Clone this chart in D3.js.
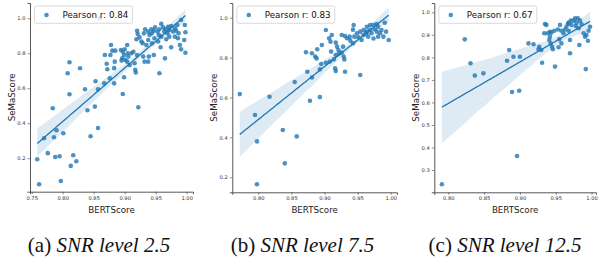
<!DOCTYPE html>
<html>
<head>
<meta charset="utf-8">
<script src="https://cdn.jsdelivr.net/npm/d3@7/dist/d3.min.js"></script>
<style>
  body { margin: 0; background: #fff; }
</style>
</head>
<body>
<svg id="fig" width="598" height="262" font-family="DejaVu Sans, sans-serif"></svg>
<script>
// BERTScore (x) / SeMaScore (y) pairs
var bertA = [0.759,0.762,0.770,0.776,0.784,0.786,0.788,0.790,0.795,0.797,0.801,0.813,0.817,0.822,0.840,0.845,0.852,0.857,0.922,
  0.811,0.808,0.811,0.828,0.836,0.853,0.857,0.867,0.883,0.876,0.897,0.899,0.872,0.871,0.883,0.884,0.868,0.860,
  0.878,0.880,0.885,0.877,0.894,0.897,0.900,0.904,0.905,0.906,0.899,0.896,0.895,0.901,0.904,0.911,0.914,0.920,0.916,0.908,0.930,0.932,0.938,0.939,0.947,0.917,0.918,
  0.956,0.965,0.958,0.975,0.989,0.991,0.998,0.996,0.998,0.997,0.991,
  0.920,0.921,0.924,0.919,0.927,0.931,0.933,0.938,0.940,0.943,0.944,0.947,0.949,0.953,0.955,0.956,0.959,0.962,0.964,0.966,
  0.969,0.970,0.972,0.975,0.978,0.981,0.983,0.985,0.987,0.981,0.972,0.959,0.948,0.938,0.929,0.935,0.944,0.954,0.967,0.986];
var semaA = [0.194,0.051,0.314,0.229,0.486,0.320,0.207,0.360,0.211,0.070,0.343,0.156,0.217,0.183,0.474,0.326,0.495,0.373,0.491,
  0.566,0.686,0.749,0.714,0.594,0.640,0.594,0.628,0.628,0.657,0.567,0.663,0.709,0.740,0.715,0.752,0.790,1.000,
  0.847,0.815,0.815,0.790,0.819,0.809,0.823,0.847,0.800,0.781,0.790,0.771,0.758,0.762,0.752,0.800,0.809,0.790,0.743,0.733,0.781,0.752,0.752,0.781,0.790,0.705,0.690,
  0.686,0.771,0.834,0.834,0.847,0.823,0.803,0.876,0.920,0.962,0.990,
  0.929,0.910,0.891,0.880,0.867,0.914,0.937,0.924,0.905,0.937,0.914,0.929,0.948,0.924,0.905,0.937,0.968,0.948,0.924,0.937,
  0.914,0.952,0.933,0.956,0.924,0.943,0.929,0.962,0.914,0.895,0.895,0.895,0.886,0.876,0.857,0.847,0.857,0.867,0.880,0.886];

var bertB = [0.772,0.817,0.795,0.798,0.798,0.837,0.840,0.858,0.878,0.893,
  0.855,0.874,0.881,0.893,0.895,0.902,0.888,0.886,0.872,0.881,0.889,0.896,0.902,0.911,0.907,0.909,0.910,0.916,0.917,0.931,0.930,0.954,0.944,0.943,0.997,0.943,
  0.917,0.919,0.921,0.922,0.917,0.914,0.908,0.926,0.928,0.929,
  0.926,0.931,0.938,0.945,0.949,0.954,0.959,0.964,0.969,0.974,0.979,0.981,0.986,0.991,0.993,0.989,0.956,0.959,0.964,0.966,
  0.971,0.976,0.979,0.969,0.963,0.951,0.939,0.934,0.974,0.984,0.981];
var semaB = [0.617,0.604,0.512,0.380,0.165,0.437,0.270,0.405,0.584,0.602,
  0.678,0.729,0.700,0.741,0.768,0.774,0.796,0.805,0.827,0.822,0.842,0.863,0.938,0.913,0.897,0.880,0.830,0.746,0.733,0.729,0.791,0.713,0.963,0.940,0.888,0.872,
  0.875,0.855,0.838,0.821,0.813,0.791,0.780,0.825,0.855,0.805,
  0.913,0.908,0.905,0.905,0.922,0.930,0.938,0.955,0.963,0.963,0.968,0.955,0.938,0.975,0.930,0.905,0.888,0.913,0.930,0.905,
  0.922,0.942,0.930,0.938,0.922,0.902,0.885,0.897,0.896,0.922,0.905];

var bertC = [0.791,0.896,
  0.823,0.831,0.837,0.849,0.882,0.885,0.891,0.900,0.889,0.899,0.912,0.919,0.927,0.930,0.926,0.931,0.934,0.937,0.935,0.939,
  0.942,0.944,0.941,0.943,0.945,0.946,0.949,0.954,0.955,0.958,0.961,0.963,0.965,0.967,0.968,0.970,0.970,0.972,0.975,0.977,
  0.979,0.982,0.983,0.986,0.989,0.991,0.992,0.993,0.995,0.996,0.998,
  0.971,0.981,0.984,0.978,0.968,0.956,0.953,0.948,0.958,0.942];
var semaC = [0.237,0.362,
  0.880,0.774,0.719,0.729,0.785,0.833,0.803,0.803,0.646,0.652,0.862,0.858,0.847,0.833,0.836,0.776,0.907,0.944,0.948,0.907,
  0.914,0.910,0.877,0.862,0.847,0.836,0.759,0.845,0.880,0.862,0.907,0.924,0.936,0.948,0.918,0.877,0.818,0.944,0.963,0.973,
  0.954,0.929,0.855,0.948,0.907,0.892,0.748,0.899,0.874,0.918,0.936,
  0.963,0.973,0.963,0.939,0.954,0.944,0.924,0.918,0.918,0.892];

var pearson = ["0.84", "0.83", "0.67"];
var captionTag = ["(a)", "(b)", "(c)"];
var captionText = ["SNR level 2.5", "SNR level 7.5", "SNR level 12.5"];

var xTicksA = [0.75, 0.80, 0.85, 0.90, 0.95, 1.00];
var yTicksA = [0.2, 0.4, 0.6, 0.8, 1.0];
var xTicksB = [0.80, 0.85, 0.90, 0.95, 1.00];
var yTicksB = [0.2, 0.4, 0.6, 0.8, 1.0];
var xTicksC = [0.80, 0.85, 0.90, 0.95, 1.00];
var yTicksC = [0.3, 0.4, 0.5, 0.6, 0.7, 0.8, 0.9, 1.0];

var blue = "#1f77b4";
var svg = d3.select("#fig");

var panels = [
  {bx: bertA, sy: semaA, xt: xTicksA, yt: yTicksA, left: 30, right: 193, top: 3, bottom: 191.7,
   xd: [0.7473, 1.0102], yd: [0.0086, 1.0874], capX: 99},
  {bx: bertB, sy: semaB, xt: xTicksB, yt: yTicksB, left: 232.3, right: 397, top: 3, bottom: 192.3,
   xd: [0.7607, 1.0095], yd: [0.1248, 1.0737], capX: 302.5},
  {bx: bertC, sy: semaC, xt: xTicksC, yt: yTicksC, left: 434.3, right: 596, top: 3, bottom: 192.3,
   xd: [0.7804, 1.0063], yd: [0.2011, 1.0413], capX: 505}
];

function linfit(xs, ys) {
  var mx = d3.mean(xs), my = d3.mean(ys), sxx = 0, sxy = 0;
  for (var i = 0; i < xs.length; i++) {
    sxx += (xs[i] - mx) * (xs[i] - mx);
    sxy += (xs[i] - mx) * (ys[i] - my);
  }
  var b = sxy / sxx;
  return [my - b * mx, b];
}

// fit line + bootstrap 95% band (seeded, same idea as seaborn regplot)
function fit(xs, ys) {
  var n = xs.length;
  var ab = linfit(xs, ys);
  var lo = d3.min(xs), hi = d3.max(xs);
  var grid = d3.range(0, 101).map(function(k) { return lo + (hi - lo) * k / 100; });
  var pick = d3.randomInt.source(d3.randomLcg(0.42))(n);
  var boots = grid.map(function() { return []; });
  for (var r = 0; r < 1000; r++) {
    var bx = [], by = [];
    for (var k = 0; k < n; k++) {
      var j = pick();
      bx.push(xs[j]); by.push(ys[j]);
    }
    var c = linfit(bx, by);
    grid.forEach(function(x, g) { boots[g].push(c[0] + c[1] * x); });
  }
  return grid.map(function(x, g) {
    var s = boots[g].sort(d3.ascending);
    return {x: x, y: ab[0] + ab[1] * x, y0: d3.quantileSorted(s, 0.025), y1: d3.quantileSorted(s, 0.975)};
  });
}

panels.forEach(function(p, i) {
  var x = d3.scaleLinear().domain(p.xd).range([p.left, p.right]);
  var y = d3.scaleLinear().domain(p.yd).range([p.bottom, p.top]);
  var g = svg.append("g");
  var pts = p.bx.map(function(v, k) { return [v, p.sy[k]]; });

  g.selectAll("circle.pt")
    .data(pts)
    .enter()
    .append("circle")
    .attr("class", "pt")
    .attr("cx", function(d) { return x(d[0]); })
    .attr("cy", function(d) { return y(d[1]); })
    .attr("r", 2.3)
    .attr("fill", blue)
    .attr("fill-opacity", 0.8);

  var reg = fit(p.bx, p.sy);
  g.append("path")
    .datum(reg)
    .attr("d", d3.area()
      .x(function(d) { return x(d.x); })
      .y0(function(d) { return y(d.y0); })
      .y1(function(d) { return y(d.y1); }))
    .attr("fill", blue)
    .attr("fill-opacity", 0.15);
  g.append("path")
    .datum(reg)
    .attr("d", d3.line()
      .x(function(d) { return x(d.x); })
      .y(function(d) { return y(d.y); }))
    .attr("fill", "none")
    .attr("stroke", blue)
    .attr("stroke-width", 1.3);

  // axes
  var xa = g.append("g").attr("transform", "translate(0," + p.bottom + ")")
    .call(d3.axisBottom(x).tickValues(p.xt).tickFormat(d3.format(".2f")).tickSizeOuter(0).tickSize(2.5).tickPadding(2));
  var ya = g.append("g").attr("transform", "translate(" + p.left + ",0)")
    .call(d3.axisLeft(y).tickValues(p.yt).tickFormat(d3.format(".1f")).tickSizeOuter(0).tickSize(2.5).tickPadding(2));
  [xa, ya].forEach(function(ax) {
    ax.attr("font-family", null).attr("font-size", null);
    ax.select(".domain").attr("stroke", "#444").attr("stroke-width", 0.9);
    ax.selectAll(".tick line").attr("stroke", "#444").attr("stroke-width", 0.6);
    ax.selectAll(".tick text").attr("font-size", 5.2).attr("fill", "#333");
  });

  g.append("text")
    .attr("x", (p.left + p.right) / 2)
    .attr("y", 213)
    .attr("text-anchor", "middle")
    .attr("font-size", 8.7)
    .attr("fill", "#222")
    .text("BERTScore");
  g.append("text")
    .attr("transform", "translate(" + (p.left - 15.5) + "," + ((p.top + p.bottom) / 2) + ") rotate(-90)")
    .attr("text-anchor", "middle")
    .attr("font-size", 8.7)
    .attr("fill", "#222")
    .text("SeMaScore");

  // legend
  var lg = g.append("g").attr("transform", "translate(" + (p.left + 4.5) + ",6)");
  lg.append("rect")
    .attr("width", 98).attr("height", 17.3).attr("rx", 2)
    .attr("fill", "#fff").attr("fill-opacity", 0.8)
    .attr("stroke", "#ccc").attr("stroke-width", 0.7);
  lg.append("circle")
    .attr("cx", 12).attr("cy", 9).attr("r", 2.3)
    .attr("fill", blue).attr("fill-opacity", 0.8);
  lg.append("text")
    .attr("x", 28).attr("y", 12.3)
    .attr("font-size", 8.7)
    .attr("fill", "#111")
    .text("Pearson r: " + pearson[i]);

  // caption
  var cap = svg.append("text")
    .attr("x", p.capX)
    .attr("y", 252)
    .attr("text-anchor", "middle")
    .attr("font-family", "Liberation Serif, serif")
    .attr("font-size", 21)
    .attr("fill", "#111");
  cap.append("tspan").text(captionTag[i] + " ");
  cap.append("tspan").attr("font-style", "italic").text(captionText[i]);
});
</script>
</body>
</html>
